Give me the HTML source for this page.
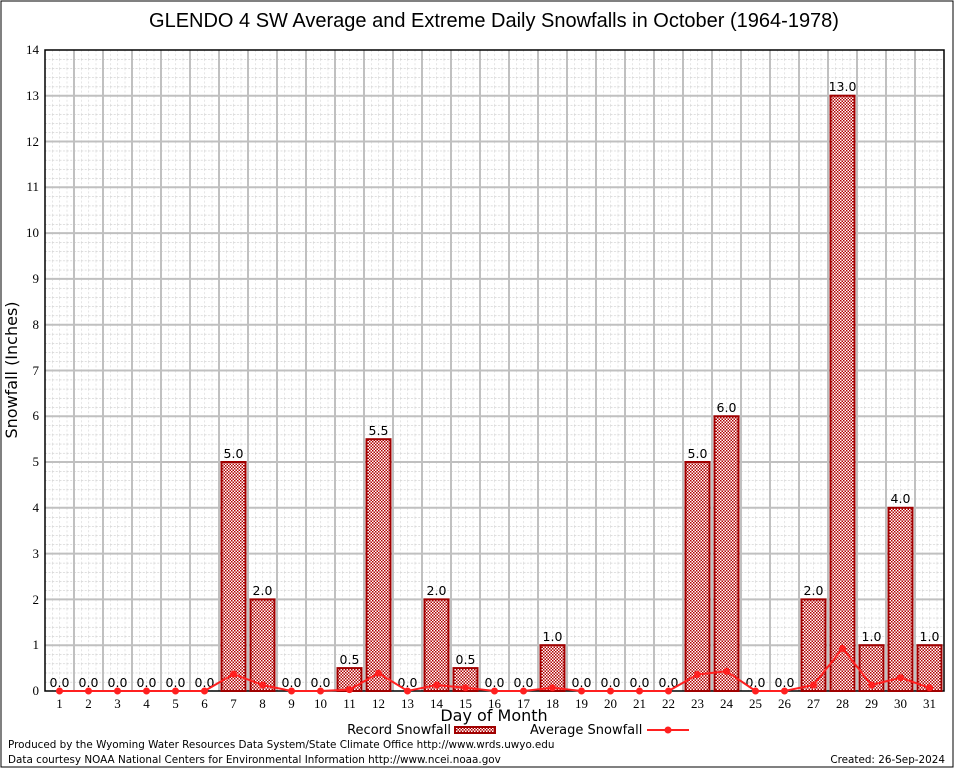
<!DOCTYPE html>
<html><head><meta charset="utf-8"><style>
html,body{margin:0;padding:0;background:#fff}
svg{display:block}
.s{font-family:"Liberation Serif",serif;font-size:13px}
.l{font-family:"DejaVu Sans","Liberation Sans",sans-serif;font-size:12.5px}
.f{font-family:"DejaVu Sans","Liberation Sans",sans-serif;font-size:10.4px}
</style></head><body>
<svg width="954" height="768" viewBox="0 0 954 768" xmlns="http://www.w3.org/2000/svg">
<defs>
<pattern id="minor" x="45" y="50" width="7.25" height="9.158" patternUnits="userSpaceOnUse">
<line x1="0" y1="0" x2="7.25" y2="0" stroke="#bbb" stroke-width="1" stroke-dasharray="2,1.5"/>
<line x1="0" y1="0" x2="0" y2="9.158" stroke="#ccc" stroke-width="1" stroke-dasharray="2,2"/>
</pattern>
<pattern id="hatch" width="3" height="3" patternUnits="userSpaceOnUse">
<rect width="3" height="3" fill="#fff"/>
<rect width="1.5" height="1.5" fill="#b00000"/>
<rect x="1.5" y="1.5" width="1.5" height="1.5" fill="#b00000"/>
</pattern>
</defs>
<rect x="1" y="1" width="952" height="766" fill="#fff" stroke="#000" stroke-width="1"/>
<text x="494" y="27" text-anchor="middle" font-family="Liberation Sans,sans-serif" font-size="20">GLENDO 4 SW Average and Extreme Daily Snowfalls in October (1964-1978)</text>
<rect x="45" y="50" width="899" height="641" fill="url(#minor)"/>
<g stroke="#c0c0c0" stroke-width="2">
<line x1="74" y1="50" x2="74" y2="691"/><line x1="103" y1="50" x2="103" y2="691"/><line x1="132" y1="50" x2="132" y2="691"/><line x1="161" y1="50" x2="161" y2="691"/><line x1="190" y1="50" x2="190" y2="691"/><line x1="219" y1="50" x2="219" y2="691"/><line x1="248" y1="50" x2="248" y2="691"/><line x1="277" y1="50" x2="277" y2="691"/><line x1="306" y1="50" x2="306" y2="691"/><line x1="335" y1="50" x2="335" y2="691"/><line x1="364" y1="50" x2="364" y2="691"/><line x1="393" y1="50" x2="393" y2="691"/><line x1="422" y1="50" x2="422" y2="691"/><line x1="451" y1="50" x2="451" y2="691"/><line x1="480" y1="50" x2="480" y2="691"/><line x1="509" y1="50" x2="509" y2="691"/><line x1="538" y1="50" x2="538" y2="691"/><line x1="567" y1="50" x2="567" y2="691"/><line x1="596" y1="50" x2="596" y2="691"/><line x1="625" y1="50" x2="625" y2="691"/><line x1="654" y1="50" x2="654" y2="691"/><line x1="683" y1="50" x2="683" y2="691"/><line x1="712" y1="50" x2="712" y2="691"/><line x1="741" y1="50" x2="741" y2="691"/><line x1="770" y1="50" x2="770" y2="691"/><line x1="799" y1="50" x2="799" y2="691"/><line x1="828" y1="50" x2="828" y2="691"/><line x1="857" y1="50" x2="857" y2="691"/><line x1="886" y1="50" x2="886" y2="691"/><line x1="915" y1="50" x2="915" y2="691"/>
<line x1="45" y1="645.2" x2="944" y2="645.2"/><line x1="45" y1="599.4" x2="944" y2="599.4"/><line x1="45" y1="553.6" x2="944" y2="553.6"/><line x1="45" y1="507.8" x2="944" y2="507.8"/><line x1="45" y1="462" x2="944" y2="462"/><line x1="45" y1="416.3" x2="944" y2="416.3"/><line x1="45" y1="370.5" x2="944" y2="370.5"/><line x1="45" y1="324.7" x2="944" y2="324.7"/><line x1="45" y1="278.9" x2="944" y2="278.9"/><line x1="45" y1="233.1" x2="944" y2="233.1"/><line x1="45" y1="187.3" x2="944" y2="187.3"/><line x1="45" y1="141.5" x2="944" y2="141.5"/><line x1="45" y1="95.7" x2="944" y2="95.7"/>
</g>
<rect x="45" y="50" width="899" height="641" fill="none" stroke="#000" stroke-width="1.5"/>
<g fill="url(#hatch)" stroke="#a00000" stroke-width="2">
<rect x="221.5" y="462" width="24" height="229"/>
<rect x="250.5" y="599.4" width="24" height="91.6"/>
<rect x="337.5" y="668.1" width="24" height="22.9"/>
<rect x="366.5" y="439.2" width="24" height="251.8"/>
<rect x="424.5" y="599.4" width="24" height="91.6"/>
<rect x="453.5" y="668.1" width="24" height="22.9"/>
<rect x="540.5" y="645.2" width="24" height="45.8"/>
<rect x="685.5" y="462" width="24" height="229"/>
<rect x="714.5" y="416.3" width="24" height="274.7"/>
<rect x="801.5" y="599.4" width="24" height="91.6"/>
<rect x="830.5" y="95.7" width="24" height="595.3"/>
<rect x="859.5" y="645.2" width="24" height="45.8"/>
<rect x="888.5" y="507.8" width="24" height="183.2"/>
<rect x="917.5" y="645.2" width="24" height="45.8"/>
</g>
<g class="l" text-anchor="middle">
<text x="233.5" y="458">5.0</text><text x="262.5" y="595">2.0</text><text x="349.5" y="664">0.5</text><text x="378.5" y="435">5.5</text><text x="436.5" y="595">2.0</text><text x="465.5" y="664">0.5</text><text x="552.5" y="641">1.0</text><text x="697.5" y="458">5.0</text><text x="726.5" y="412">6.0</text><text x="813.5" y="595">2.0</text><text x="842.5" y="91">13.0</text><text x="871.5" y="641">1.0</text><text x="900.5" y="503">4.0</text><text x="929.5" y="641">1.0</text>
<text x="59.5" y="687">0.0</text><text x="88.5" y="687">0.0</text><text x="117.5" y="687">0.0</text><text x="146.5" y="687">0.0</text><text x="175.5" y="687">0.0</text><text x="204.5" y="687">0.0</text><text x="291.5" y="687">0.0</text><text x="320.5" y="687">0.0</text><text x="407.5" y="687">0.0</text><text x="494.5" y="687">0.0</text><text x="523.5" y="687">0.0</text><text x="581.5" y="687">0.0</text><text x="610.5" y="687">0.0</text><text x="639.5" y="687">0.0</text><text x="668.5" y="687">0.0</text><text x="755.5" y="687">0.0</text><text x="784.5" y="687">0.0</text>
</g>
<polyline fill="none" stroke="#ff2020" stroke-width="2" points="59.5,691 88.5,691 117.5,691 146.5,691 175.5,691 204.5,691 233.5,674.1 262.5,685 291.5,691 320.5,691 349.5,689.6 378.5,673.1 407.5,691 436.5,685 465.5,687.8 494.5,691 523.5,691 552.5,687.8 581.5,691 610.5,691 639.5,691 668.5,691 697.5,674.5 726.5,671.3 755.5,691 784.5,691 813.5,685 842.5,648.4 871.5,685 900.5,677.7 929.5,687.8"/>
<g fill="#ff2020">
<circle cx="59.5" cy="691" r="3.5"/><circle cx="88.5" cy="691" r="3.5"/><circle cx="117.5" cy="691" r="3.5"/><circle cx="146.5" cy="691" r="3.5"/><circle cx="175.5" cy="691" r="3.5"/><circle cx="204.5" cy="691" r="3.5"/><circle cx="233.5" cy="674.1" r="3.5"/><circle cx="262.5" cy="685" r="3.5"/><circle cx="291.5" cy="691" r="3.5"/><circle cx="320.5" cy="691" r="3.5"/><circle cx="349.5" cy="689.6" r="3.5"/><circle cx="378.5" cy="673.1" r="3.5"/><circle cx="407.5" cy="691" r="3.5"/><circle cx="436.5" cy="685" r="3.5"/><circle cx="465.5" cy="687.8" r="3.5"/><circle cx="494.5" cy="691" r="3.5"/><circle cx="523.5" cy="691" r="3.5"/><circle cx="552.5" cy="687.8" r="3.5"/><circle cx="581.5" cy="691" r="3.5"/><circle cx="610.5" cy="691" r="3.5"/><circle cx="639.5" cy="691" r="3.5"/><circle cx="668.5" cy="691" r="3.5"/><circle cx="697.5" cy="674.5" r="3.5"/><circle cx="726.5" cy="671.3" r="3.5"/><circle cx="755.5" cy="691" r="3.5"/><circle cx="784.5" cy="691" r="3.5"/><circle cx="813.5" cy="685" r="3.5"/><circle cx="842.5" cy="648.4" r="3.5"/><circle cx="871.5" cy="685" r="3.5"/><circle cx="900.5" cy="677.7" r="3.5"/><circle cx="929.5" cy="687.8" r="3.5"/>
</g>
<g class="s" text-anchor="end">
<text x="39" y="695">0</text><text x="39" y="649">1</text><text x="39" y="604">2</text><text x="39" y="558">3</text><text x="39" y="512">4</text><text x="39" y="466">5</text><text x="39" y="420">6</text><text x="39" y="375">7</text><text x="39" y="329">8</text><text x="39" y="283">9</text><text x="39" y="237">10</text><text x="39" y="191">11</text><text x="39" y="146">12</text><text x="39" y="100">13</text><text x="39" y="54">14</text>
</g>
<g class="s" text-anchor="middle">
<text x="59.5" y="708">1</text><text x="88.5" y="708">2</text><text x="117.5" y="708">3</text><text x="146.5" y="708">4</text><text x="175.5" y="708">5</text><text x="204.5" y="708">6</text><text x="233.5" y="708">7</text><text x="262.5" y="708">8</text><text x="291.5" y="708">9</text><text x="320.5" y="708">10</text><text x="349.5" y="708">11</text><text x="378.5" y="708">12</text><text x="407.5" y="708">13</text><text x="436.5" y="708">14</text><text x="465.5" y="708">15</text><text x="494.5" y="708">16</text><text x="523.5" y="708">17</text><text x="552.5" y="708">18</text><text x="581.5" y="708">19</text><text x="610.5" y="708">20</text><text x="639.5" y="708">21</text><text x="668.5" y="708">22</text><text x="697.5" y="708">23</text><text x="726.5" y="708">24</text><text x="755.5" y="708">25</text><text x="784.5" y="708">26</text><text x="813.5" y="708">27</text><text x="842.5" y="708">28</text><text x="871.5" y="708">29</text><text x="900.5" y="708">30</text><text x="929.5" y="708">31</text>
</g>
<text x="494" y="721" text-anchor="middle" font-family="DejaVu Sans,sans-serif" font-size="16">Day of Month</text>
<text transform="translate(17,370) rotate(-90)" text-anchor="middle" font-family="DejaVu Sans,sans-serif" font-size="16">Snowfall (Inches)</text>
<text x="451" y="734" text-anchor="end" font-family="DejaVu Sans,sans-serif" font-size="13">Record Snowfall</text>
<rect x="455" y="727" width="40" height="6" fill="url(#hatch)" stroke="#a00000" stroke-width="2"/>
<text x="530" y="734" font-family="DejaVu Sans,sans-serif" font-size="13">Average Snowfall</text>
<line x1="647" y1="730" x2="689" y2="730" stroke="#ff2020" stroke-width="2"/>
<circle cx="668" cy="730" r="3.5" fill="#ff2020"/>
<text x="8" y="748" class="f">Produced by the Wyoming Water Resources Data System/State Climate Office http://www.wrds.uwyo.edu</text>
<text x="8" y="763" class="f">Data courtesy NOAA National Centers for Environmental Information http://www.ncei.noaa.gov</text>
<text x="945" y="763" text-anchor="end" class="f">Created: 26-Sep-2024</text>
</svg>
</body></html>
